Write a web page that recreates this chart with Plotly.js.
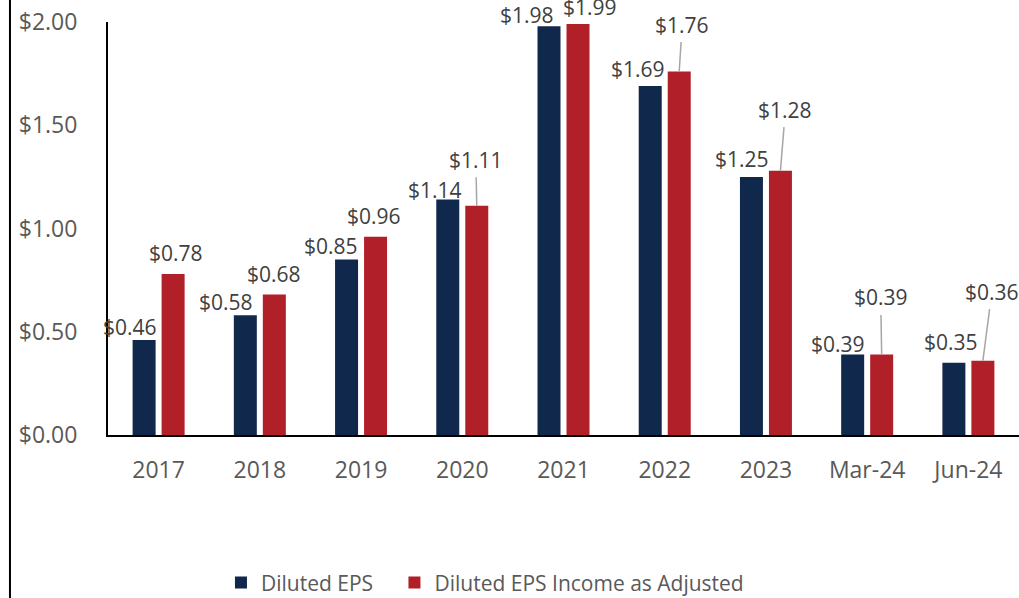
<!DOCTYPE html>
<html>
<head>
<meta charset="utf-8">
<script src="https://cdn.plot.ly/plotly-3.0.1.min.js"></script>
<style>html,body{margin:0;padding:0;background:#fff;}#chart{width:1019px;height:598px;}</style>
</head>
<body>
<div id="chart"></div>
<script>
const categories = ['2017','2018','2019','2020','2021','2022','2023','Mar-24','Jun-24'];
const dilutedEPS = [0.46, 0.58, 0.85, 1.14, 1.98, 1.69, 1.25, 0.39, 0.35];
const adjustedEPS = [0.78, 0.68, 0.96, 1.11, 1.99, 1.76, 1.28, 0.39, 0.36];
const seriesNames = ['Diluted EPS', 'Diluted EPS Income as Adjusted'];
const yTickVals = [0, 0.5, 1, 1.5, 2];
const yTickText = ['$0.00', '$0.50', '$1.00', '$1.50', '$2.00'];

// label placement tweaks (pixels)
const blueDx = [-14, -19, -16, -13, -22, -12, -9, -15, -3];
const blueDy = [13, 13, 13, 10, 11, 17, 18, 10, 21];
const redDx = [3, 0, -2, -1, 11.5, 3, 5, -1, 9];
const redDy = [21, 21, 21, 46, 17, 47, 61, 57, 69];
const redLeader = [false, false, false, true, false, true, true, true, true];

const NAVY = '#10284B';
const RED = '#B11F29';
const LABEL = '#404040';
const FONT = '"Open Sans", "Noto Sans", sans-serif';
const OFF = 14.5;

const fmt = v => '$' + v.toFixed(2);

const traces = [
  {type:'bar', name: seriesNames[0] + '\u00a0\u00a0\u00a0', x: categories, y: dilutedEPS, marker:{color: NAVY, line:{width:0}}, hoverinfo:'none'},
  {type:'bar', name: seriesNames[1], x: categories, y: adjustedEPS, marker:{color: RED, line:{width:0}}, hoverinfo:'none'}
];

const annotations = [];
categories.forEach((c, i) => {
  annotations.push({x: i, y: dilutedEPS[i], text: fmt(dilutedEPS[i]), showarrow: false,
    xshift: -OFF + blueDx[i], yshift: blueDy[i], yanchor: 'middle', xanchor: 'center',
    font: {family: FONT, size: 21, color: LABEL}});
  if (redLeader[i]) {
    annotations.push({x: i, y: adjustedEPS[i], text: fmt(adjustedEPS[i]), showarrow: true,
      arrowhead: 0, arrowwidth: 1.5, arrowcolor: '#A6A6A6', standoff: 0, borderpad: 3,
      ax: redDx[i], ay: -redDy[i], xshift: OFF,
      font: {family: FONT, size: 21, color: LABEL}});
  } else {
    annotations.push({x: i, y: adjustedEPS[i], text: fmt(adjustedEPS[i]), showarrow: false,
      xshift: OFF + redDx[i], yshift: redDy[i], yanchor: 'middle', xanchor: 'center',
      font: {family: FONT, size: 21, color: LABEL}});
  }
});

const layout = {
  width: 1019, height: 598,
  margin: {l: 108, r: 0, t: 22, b: 163, autoexpand: false},
  paper_bgcolor: '#fff', plot_bgcolor: '#fff',
  barmode: 'group', bargap: 0.427, bargroupgap: 0.207,
  font: {family: FONT, color: '#595959'},
  xaxis: {type: 'category', range: [-0.5, categories.length - 0.5], autorange: false,
    showline: true, linecolor: '#000', linewidth: 2, ticks: '',
    ticklabelstandoff: 13, tickfont: {family: FONT, size: 23, color: '#595959'}, showgrid: false, fixedrange: true},
  yaxis: {range: [0, 2], autorange: false, tickmode: 'array', tickvals: yTickVals, ticktext: yTickText,
    showline: true, linecolor: '#000', linewidth: 2, showgrid: false, zeroline: false, ticks: '',
    ticklabelstandoff: 24, tickfont: {family: FONT, size: 23, color: '#595959'}, fixedrange: true},
  showlegend: true,
  legend: {orientation: 'h', x: 0.124, xanchor: 'left', y: -0.358, yanchor: 'middle',
    font: {family: FONT, size: 21, color: '#595959'}, traceorder: 'normal', bgcolor: 'rgba(0,0,0,0)'},
  annotations: annotations,
  shapes: [{type: 'line', xref: 'paper', yref: 'paper', x0: -0.1076, x1: -0.1076, y0: -0.4, y1: 1.06,
    line: {color: '#000', width: 2}}]
};

Plotly.newPlot('chart', traces, layout, {displayModeBar: false, staticPlot: true});
</script>
</body>
</html>
